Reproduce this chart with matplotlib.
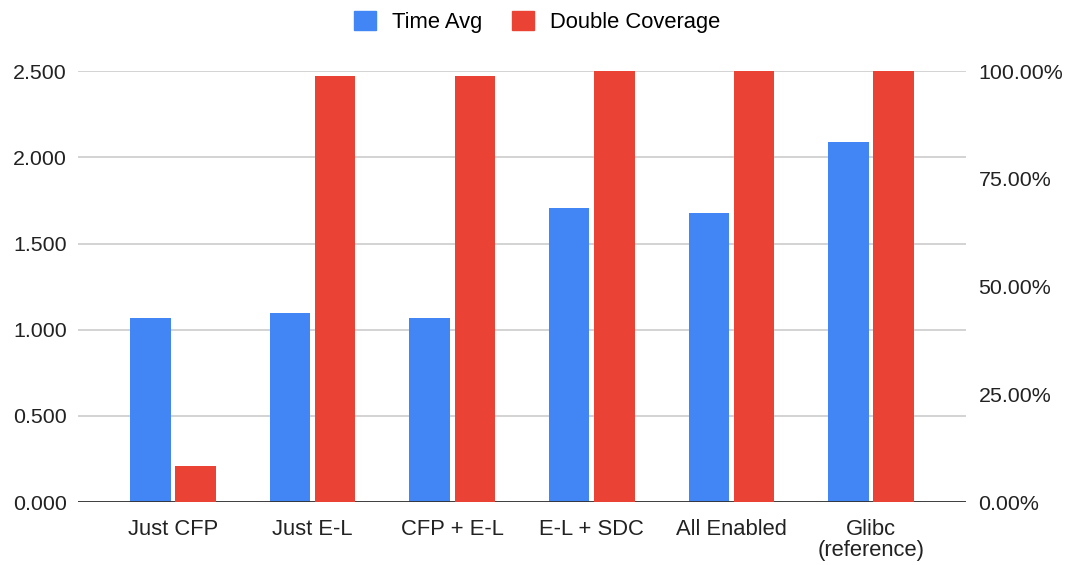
import matplotlib
matplotlib.use("Agg")
import matplotlib.pyplot as plt
import numpy as np
from matplotlib.patches import Patch
from matplotlib.ticker import FuncFormatter

categories = ["Just CFP", "Just E-L", "CFP + E-L", "E-L + SDC", "All Enabled", "Glibc\n(reference)"]
time_avg = [1.067, 1.096, 1.067, 1.705, 1.676, 2.088]
double_cov = [8.4, 98.8, 98.8, 100.0, 100.0, 100.0]

BLUE = "#4285F4"
RED = "#EA4335"

plt.rcParams["font.family"] = ["Liberation Sans", "DejaVu Sans"]

fig = plt.figure(figsize=(10.68, 5.65), dpi=100)
ax = fig.add_axes([0.073, 0.1115, 0.8315, 0.7625])
ax2 = ax.twinx()

x = np.arange(len(categories))
w = 0.29
off = 0.162
ax.bar(x - off, time_avg, width=w, color=BLUE, zorder=3)
ax2.bar(x + off, double_cov, width=w, color=RED, zorder=3)

ax.set_xlim(-0.68, len(categories) - 1 + 0.68)
ax.set_ylim(0, 2.5)
ax2.set_ylim(0, 100)
ax.set_yticks(np.arange(0, 2.51, 0.5))
ax2.set_yticks(np.arange(0, 100.1, 25))
ax.yaxis.set_major_formatter(FuncFormatter(lambda v, p: f"{v:.3f}"))
ax2.yaxis.set_major_formatter(FuncFormatter(lambda v, p: f"{v:.2f}%"))
ax.set_xticks(x)
ax.set_xticklabels(categories, linespacing=1.05)

ax.grid(axis="y", color="#cccccc", linewidth=1.2, zorder=0)
ax.set_axisbelow(True)
for a in (ax, ax2):
    for s in a.spines.values():
        s.set_visible(False)
    a.tick_params(length=0, labelsize=15.4, colors="#222222")
ax.tick_params(axis="y", pad=8)
ax2.tick_params(axis="y", pad=9)
ax.tick_params(axis="x", pad=12)
ax.tick_params(axis="x", labelsize=15.8)
ax.axhline(0, color="#333333", linewidth=1.3, zorder=4)

handles = [Patch(color=BLUE, label="Time Avg"), Patch(color=RED, label="Double Coverage")]
fig.legend(handles=handles, loc="upper center", bbox_to_anchor=(0.503, 1.016), ncol=2,
           frameon=False, fontsize=15.8, handlelength=1.0, handleheight=1.0,
           handletextpad=0.75, columnspacing=1.35)

fig.savefig("out.png", dpi=100)
